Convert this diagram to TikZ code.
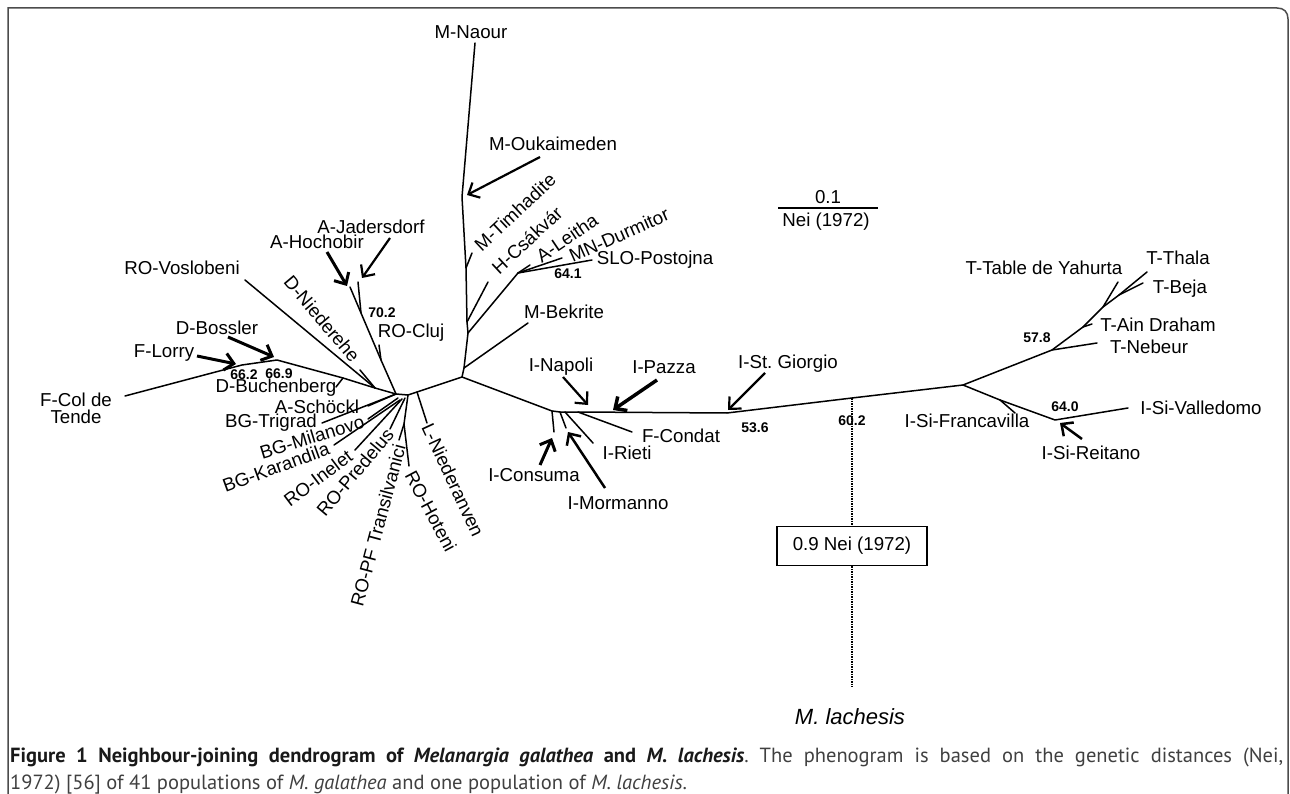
\documentclass[tikz,border=0pt]{standalone}
\usepackage{fontspec}
\setmainfont{Liberation Sans}
\newfontfamily\capfont{PT Sans}
\usetikzlibrary{arrows.meta}
\frenchspacing
\begin{document}
\begin{tikzpicture}[x=1pt,y=-1pt,
  br/.style={line width=1.5pt,line cap=round,line join=round},
  lab/.style={font=\fontsize{18.7}{17}\selectfont,inner sep=0pt,align=center},
  bsv/.style={font=\bfseries\fontsize{14}{16}\selectfont,inner sep=0pt},
  arrthick/.style={line width=3pt,-{Straight Barb[length=9pt,width=17pt]}},
  arrthin/.style={line width=2.2pt,-{Straight Barb[length=9pt,width=17pt]}},
  dotline/.style={line width=2.4pt,dash pattern=on 1.6pt off 0.9pt}]
\useasboundingbox (0,0) rectangle (1290,794);
% frame
\draw[line width=1.5pt,draw=black!70] (8,794) -- (8,8) -- (1277,8) .. controls (1284,8) and (1288,12) .. (1288,19) -- (1288,794);

% ---------- coordinates ----------
\coordinate (hubA) at (396,394);
\coordinate (hubB) at (408,395);
\coordinate (mbase) at (462,377);
\coordinate (j1) at (375,388);
\coordinate (p1) at (343,378);
\coordinate (n669) at (277,360);
\coordinate (n662) at (242,365);
\coordinate (colt) at (125,396);
\coordinate (vosl) at (245,280);
\coordinate (nied) at (360,370);
\coordinate (buch) at (336,387);
\coordinate (hoch) at (350,287);
\coordinate (jad) at (358,282);
\coordinate (n702) at (361,313);
\coordinate (jc) at (381,360);
\coordinate (cluj) at (379,345);
\coordinate (schk) at (368,406);
\coordinate (trig) at (322,423);
\coordinate (mila) at (368,419);
\coordinate (kara) at (334,445);
\coordinate (inel) at (355,450);
\coordinate (pred) at (390,429);
\coordinate (pfn) at (404,424);
\coordinate (pft) at (399,440);
\coordinate (hote) at (409,466);
\coordinate (nieb) at (417,392);
\coordinate (nier) at (427,423);
% M cluster
\coordinate (m0) at (464,368);
\coordinate (m1) at (468,333);
\coordinate (m2) at (467,322);
\coordinate (m3) at (466,268);
\coordinate (m4) at (462,197);
\coordinate (naour) at (475,43);
\coordinate (timh) at (472,253);
\coordinate (csak) at (488,282);
\coordinate (n641) at (518,273);
\coordinate (leit) at (530,265);
\coordinate (durm) at (562,258);
\coordinate (slo) at (592,260);
\coordinate (bekr) at (528,323);
% I cluster and spine
\coordinate (iA) at (552,411);
\coordinate (iB) at (560,412);
\coordinate (iC) at (565,412);
\coordinate (iD) at (578,412);
\coordinate (n536) at (727,413);
\coordinate (n602) at (852,398);
\coordinate (R) at (963,385);
\coordinate (cons) at (554,432);
\coordinate (morm) at (566,428);
\coordinate (riet) at (593,443);
\coordinate (cond) at (632,432);
% right cluster
\coordinate (n578) at (1052,350);
\coordinate (t1) at (1083,327);
\coordinate (t2) at (1103,307);
\coordinate (t3) at (1119,295);
\coordinate (thal) at (1147,272);
\coordinate (beja) at (1143,283);
\coordinate (yah) at (1118,282);
\coordinate (ain) at (1092,324);
\coordinate (neb) at (1097,343);
\coordinate (fr0) at (1000,400);
\coordinate (fran) at (1015,413);
\coordinate (n640) at (1055,420);
\coordinate (vall) at (1128,408);
\coordinate (lach) at (852,687);

% ---------- branches ----------
\draw[br] (colt) -- (n662) -- (n669) -- (p1) -- (j1) -- (hubA) -- (hubB) -- (nieb) -- (mbase);
\draw[br] (vosl) -- (j1);
\draw[br] (nied) -- (j1);
\draw[br] (buch) -- (p1);
\draw[br] (hoch) -- (n702) -- (jc) -- (hubA);
\draw[br] (jad) -- (n702);
\draw[br] (cluj) -- (jc);
\draw[br] (schk) -- (hubA);
\draw[br] (trig) -- (hubA);
\draw[br] (mila) -- (398,398);
\draw[br] (kara) -- (400,400);
\draw[br] (inel) -- (402,399);
\draw[br] (pred) -- (405,398);
\draw[br] (pft) -- (pfn) -- (hubB);
\draw[br] (hote) -- (pfn);
\draw[br] (nier) -- (nieb);
% M cluster
\draw[br] (mbase) -- (m0) -- (m1) -- (m2) -- (m3) -- (m4) -- (naour);
\draw[br] (m3) -- (timh);
\draw[br] (m2) -- (csak);
\draw[br] (m1) -- (n641) -- (slo);
\draw[br] (n641) -- (durm);
\draw[br] (n641) -- (leit);
\draw[br] (m0) -- (bekr);
% spine
\draw[br] (mbase) -- (iA) -- (iB) -- (iC) -- (iD) -- (n536) -- (n602) -- (R);
\draw[br] (iA) -- (cons);
\draw[br] (iB) -- (morm);
\draw[br] (iC) -- (riet);
\draw[br] (iD) -- (cond);
% right cluster
\draw[br] (R) -- (n578) -- (t1) -- (t2) -- (t3) -- (thal);
\draw[br] (t3) -- (beja);
\draw[br] (t2) -- (yah);
\draw[br] (t1) -- (ain);
\draw[br] (n578) -- (neb);
\draw[br] (R) -- (fr0) -- (n640) -- (vall);
\draw[br] (fr0) -- (fran);

% ---------- M. lachesis ----------
\node[draw,line width=1.2pt,fill=white,minimum width=150pt,minimum height=39pt,inner sep=0pt,font=\fontsize{18.7}{20}\selectfont] (box) at (852,546) {0.9 Nei (1972)};
\draw[dotline] (n602) -- (box.north);
\draw[dotline] (box.south) -- (lach);
\node[inner sep=0pt,font=\itshape\fontsize{22}{24}\selectfont] (lachL) at (850,717) {M. lachesis};

% ---------- scale bar ----------
\coordinate (sb1) at (778,208);
\coordinate (sb2) at (878,208);
\draw[line width=1.4pt] (sb1) -- (sb2);
\node[lab] (sbt) at (828,197) {0.1};
\node[lab] (sbb) at (826,222) {Nei (1972)};

% ---------- labels ----------
\node[lab] (naourL) at (471,32) {M-Naour};
\node[lab] (oukL) at (553,144) {M-Oukaimeden};
\node[lab,rotate=43] (timL) at (515,212) {M-Timhadite};
\node[lab,rotate=43] (csaL) at (527,240) {H-Csákvár};
\node[lab,rotate=34] (leiL) at (567,238) {A-Leitha};
\node[lab,rotate=24] (durL) at (619,235) {MN-Durmitor};
\node[lab] (sloL) at (655,260) {SLO-Postojna};
\node[bsv] (n641L) at (568,274) {64.1};
\node[lab] (bekL) at (564,312) {M-Bekrite};

\node[lab] (voslL) at (182,268) {RO-Voslobeni};
\node[lab] (bossL) at (217,328) {D-Bossler};
\node[lab] (lorL) at (164,353) {F-Lorry};
\node[lab] (coltL) at (76,408) {F-Col de\\Tende};
\node[lab] (hochL) at (317,242) {A-Hochobir};
\node[lab] (jadL) at (371,227) {A-Jadersdorf};
\node[lab,rotate=-50] (niedL) at (322,319) {D-Niederehe};
\node[lab] (clujL) at (411,333) {RO-Cluj};
\node[bsv] (n702L) at (382,313) {70.2};
\node[bsv] (n662L) at (244,375) {66.2};
\node[bsv] (n669L) at (279,374) {66.9};
\node[lab] (buchL) at (276,388) {D-Buchenberg};
\node[lab] (schL) at (317,407) {A-Schöckl};
\node[lab] (trigL) at (271,423) {BG-Trigrad};
\node[lab,rotate=17] (milaL) at (312,437) {BG-Milanovo};
\node[lab,rotate=20] (karaL) at (276,467) {BG-Karandila};
\node[lab,rotate=37] (ineL) at (318,478) {RO-Inelet};
\node[lab,rotate=50] (predL) at (355,472) {RO-Predelus};
\node[lab,rotate=75] (pfL) at (378,525) {RO-PF Transilvanici};
\node[lab,rotate=-62] (hotL) at (431,511) {RO-Hoteni};
\node[lab,rotate=-65] (nieranL) at (453,480) {L-Niederanven};

\node[lab] (napL) at (561,367) {I-Napoli};
\node[lab] (pazL) at (664,367) {I-Pazza};
\node[lab] (giorL) at (788,364) {I-St. Giorgio};
\node[lab] (consL) at (534,475) {I-Consuma};
\node[lab] (mormL) at (618,503) {I-Mormanno};
\node[lab] (rietL) at (627,453) {I-Rieti};
\node[lab] (condL) at (681,436) {F-Condat};
\node[bsv] (n536L) at (755,428) {53.6};
\node[bsv] (n602L) at (852,421) {60.2};

\node[lab] (yahL) at (1044,268) {T-Table de Yahurta};
\node[lab] (thalaL) at (1178,258) {T-Thala};
\node[lab] (bejaL) at (1180,289) {T-Beja};
\node[lab] (ainL) at (1158,325) {T-Ain Draham};
\node[lab] (nebL) at (1149,347) {T-Nebeur};
\node[bsv] (n578L) at (1037,338) {57.8};
\node[lab] (francL) at (967,421) {I-Si-Francavilla};
\node[bsv] (n640L) at (1065,407) {64.0};
\node[lab] (valL) at (1201,408) {I-Si-Valledomo};
\node[lab] (reitL) at (1091,453) {I-Si-Reitano};

% ---------- arrows ----------
\coordinate (aOuk1) at (540,157); \coordinate (aOuk2) at (467,195);
\coordinate (aHoc1) at (327,252); \coordinate (aHoc2) at (347,286);
\coordinate (aJad1) at (390,238); \coordinate (aJad2) at (362,278);
\coordinate (aBos1) at (228,337); \coordinate (aBos2) at (274,357);
\coordinate (aLor1) at (197,356); \coordinate (aLor2) at (236,364);
\coordinate (aNap1) at (563,377); \coordinate (aNap2) at (588,405);
\coordinate (aPaz1) at (657,380); \coordinate (aPaz2) at (613,410);
\coordinate (aCon1) at (540,465); \coordinate (aCon2) at (552,438);
\coordinate (aMor1) at (605,488); \coordinate (aMor2) at (568,432);
\coordinate (aGio1) at (765,373); \coordinate (aGio2) at (728,410);
\coordinate (aRei1) at (1082,439); \coordinate (aRei2) at (1060,423);
\draw[arrthin] (aOuk1) -- (aOuk2);
\draw[arrthick] (aHoc1) -- (aHoc2);
\draw[arrthin] (aJad1) -- (aJad2);
\draw[arrthick] (aBos1) -- (aBos2);
\draw[arrthick] (aLor1) -- (aLor2);
\draw[arrthin] (aNap1) -- (aNap2);
\draw[arrthick,line width=3.5pt] (aPaz1) -- (aPaz2);
\draw[arrthick] (aCon1) -- (aCon2);
\draw[arrthin,line width=2.5pt] (aMor1) -- (aMor2);
\draw[arrthin] (aGio1) -- (aGio2);
\draw[arrthin,line width=2.5pt] (aRei1) -- (aRei2);

% ---------- caption ----------
\node[anchor=base west,inner sep=0pt,font=\capfont\fontsize{20.5}{22}\selectfont,text=black!75] (cap1) at (10,762)
  {\makebox[1273pt][s]{{\bfseries\color{black!90}Figure 1 Neighbour-joining dendrogram of \textit{Melanargia galathea} and \textit{M. lachesis}}. The phenogram is based on the genetic distances (Nei,}};
\node[anchor=base west,inner sep=0pt,font=\capfont\fontsize{20.5}{22}\selectfont,text=black!75] (cap2) at (10,789)
  {1972) [56] of 41 populations of \textit{M. galathea} and one population of \textit{M. lachesis}.};
\end{tikzpicture}
\end{document}
